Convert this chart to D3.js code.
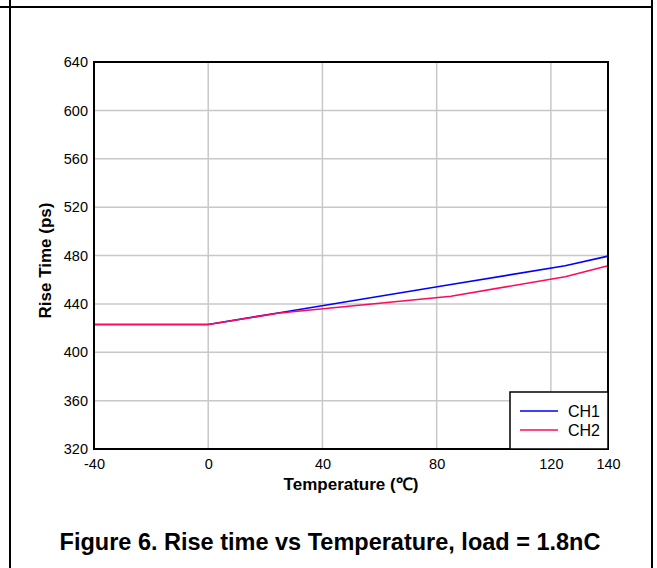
<!DOCTYPE html>
<html><head><meta charset="utf-8">
<script src="https://cdn.jsdelivr.net/npm/d3@7"></script>
<style>html,body{margin:0;padding:0;background:#fff;}svg{display:block;}</style>
</head><body>
<script>
const temps = [-40, 0, 25, 85, 125, 140];
const ch1 = [423, 423, 432.7, 456, 471.5, 479.5];
const ch2 = [423, 423, 432.5, 446.3, 462.5, 471.5];
const seriesNames = ["CH1", "CH2"];
const seriesColors = ["#0000ff", "#ff0a5a"];
const xTicks = [-40, 0, 40, 80, 120, 140];
const yTicks = [320, 360, 400, 440, 480, 520, 560, 600, 640];

const W = 657, H = 568;
const svg = d3.select("body").append("svg").attr("width", W).attr("height", H);
const font = "'Liberation Sans', Arial, sans-serif";

// outer frame
svg.append("line").attr("x1", 0).attr("x2", 653).attr("y1", 7).attr("y2", 7).attr("stroke", "#000").attr("stroke-width", 2);
svg.append("line").attr("x1", 10).attr("x2", 10).attr("y1", 0).attr("y2", H).attr("stroke", "#000").attr("stroke-width", 2);
svg.append("line").attr("x1", 652).attr("x2", 652).attr("y1", 0).attr("y2", H).attr("stroke", "#000").attr("stroke-width", 2);

const L = 94, R = 608, T = 62, B = 449;
const x = d3.scaleLinear().domain([-40, 140]).range([L, R]);
const y = d3.scaleLinear().domain([320, 640]).range([B, T]);

// grid
const g = svg.append("g");
g.selectAll(".vg").data(xTicks.filter(d => d > -40 && d < 140)).enter().append("line")
  .attr("x1", d => x(d)).attr("x2", d => x(d)).attr("y1", T).attr("y2", B)
  .attr("stroke", "#c8c8c8").attr("stroke-width", 1.5);
g.selectAll(".hg").data(yTicks.filter(d => d > 320 && d < 640)).enter().append("line")
  .attr("x1", L).attr("x2", R).attr("y1", d => y(d)).attr("y2", d => y(d))
  .attr("stroke", "#c8c8c8").attr("stroke-width", 1.5);

// axes labels via d3 axes
const xAxis = svg.append("g").attr("transform", `translate(0,${B})`)
  .call(d3.axisBottom(x).tickValues(xTicks).tickSize(0).tickPadding(10).tickFormat(d => String(d)));
xAxis.select(".domain").remove();
xAxis.selectAll("text").attr("font-family", font).attr("font-size", 14.5).attr("fill", "#000");
const yAxis = svg.append("g").attr("transform", `translate(${L},0)`)
  .call(d3.axisLeft(y).tickValues(yTicks).tickSize(0).tickPadding(6).tickFormat(d => String(d)));
yAxis.select(".domain").remove();
yAxis.selectAll("text").attr("font-family", font).attr("font-size", 14.5).attr("fill", "#000");

// lines
const line = d3.line().x((d, i) => x(temps[i])).y(d => y(d));
[ch1, ch2].forEach((s, k) => {
  svg.append("path").datum(s).attr("d", line).attr("fill", "none")
    .attr("stroke", seriesColors[k]).attr("stroke-width", 1.6);
});

// plot border
svg.append("rect").attr("x", L).attr("y", T).attr("width", R - L).attr("height", B - T)
  .attr("fill", "none").attr("stroke", "#000").attr("stroke-width", 2);

// legend
const lg = svg.append("g");
lg.append("rect").attr("x", 510).attr("y", 392).attr("width", R - 510).attr("height", B - 392)
  .attr("fill", "#fff").attr("stroke", "#000").attr("stroke-width", 1.5);
seriesNames.forEach((n, i) => {
  const yy = 411 + i * 19;
  lg.append("line").attr("x1", 520).attr("x2", 558).attr("y1", yy).attr("y2", yy)
    .attr("stroke", seriesColors[i]).attr("stroke-width", 1.6);
  lg.append("text").attr("x", 568).attr("y", yy + 5.5).text(n)
    .attr("font-family", font).attr("font-size", 16).attr("fill", "#000");
});

// axis titles
svg.append("text").attr("x", (L + R) / 2).attr("y", 490).attr("text-anchor", "middle")
  .attr("font-family", font).attr("font-size", 17).attr("font-weight", "bold").text("Temperature (℃)");
svg.append("text").attr("transform", `translate(51,${(T + B) / 2 + 5}) rotate(-90)`).attr("text-anchor", "middle")
  .attr("font-family", font).attr("font-size", 17).attr("font-weight", "bold").text("Rise Time (ps)");

// caption
svg.append("text").attr("x", 330).attr("y", 550).attr("text-anchor", "middle")
  .attr("font-family", font).attr("font-size", 23.5).attr("font-weight", "bold")
  .text("Figure 6. Rise time vs Temperature, load = 1.8nC");
</script>
</body></html>
